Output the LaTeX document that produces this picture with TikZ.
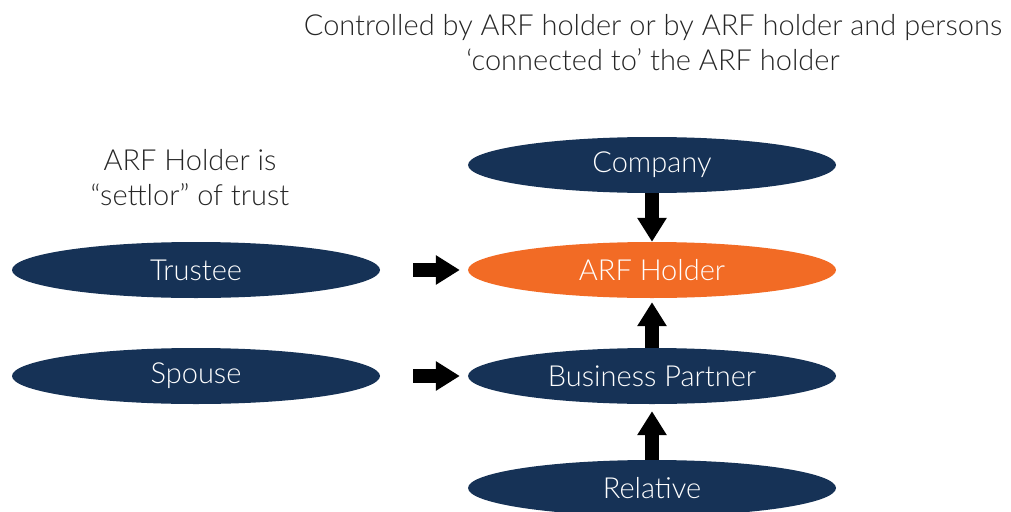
\documentclass[tikz,border=0pt]{standalone}
\usepackage{fontspec}
\setmainfont{Lato Light}
\usetikzlibrary{shapes.geometric, arrows.meta, positioning}
\definecolor{navycolor}{RGB}{22,50,86}
\definecolor{holdercolor}{RGB}{242,107,37}
\definecolor{textgray}{RGB}{38,38,38}

\begin{document}
\begin{tikzpicture}[
    x=1pt, y=-1pt,
    party/.style={ellipse, fill=navycolor, minimum width=368pt, minimum height=56pt, inner sep=0pt, text=white, font=\fontsize{29}{34}\selectfont},
    blockarrow/.style={line width=14pt, -{Triangle[length=24pt, width=28pt]}},
    caption/.style={align=center, text=textgray, font=\fontsize{29}{35}\selectfont}
]
    \useasboundingbox (0,0) rectangle (1011,511);

    % headings
    \node[caption] (control) at (653,43) {Controlled by ARF holder or by ARF holder and persons\\`connected to' the ARF holder};
    \node[caption] (settlor) at (190,178) {ARF Holder is\\``settlor'' of trust};

    % right column
    \node[party] (company) at (652,165) {Company};
    \node[party, fill=holdercolor] (holder) at (652,270) {ARF Holder};
    \node[party] (partner) at (652,376) {Business Partner};
    \node[party] (relative) at (652,488) {Relative};

    % left column
    \node[party] (trustee) at (196,270) {Trustee};
    \node[party] (spouse) at (196,376) {Spouse};

    % links
    \draw[blockarrow] (company.south) -- (holder.north);
    \draw[blockarrow, shorten >=4pt] (partner.north) -- (holder.south);
    \draw[blockarrow, shorten >=7pt] (relative.north) -- (partner.south);
    \draw[blockarrow, shorten <=33pt, shorten >=8pt] (trustee.east) -- (holder.west);
    \draw[blockarrow, shorten <=33pt, shorten >=8pt] (spouse.east) -- (partner.west);
\end{tikzpicture}
\end{document}
